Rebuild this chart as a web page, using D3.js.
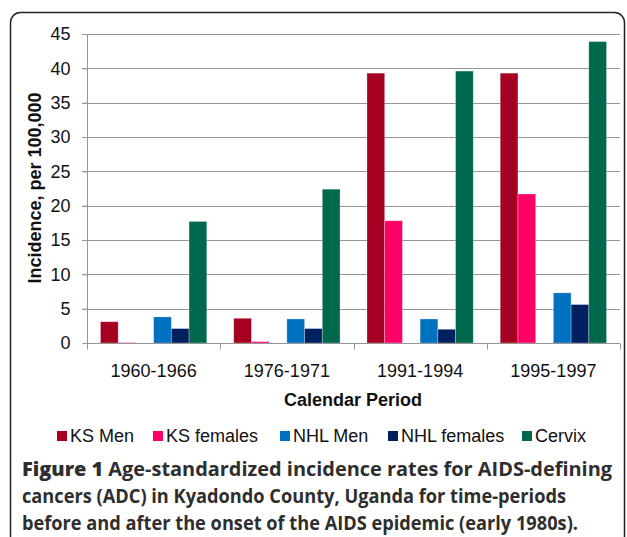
<!DOCTYPE html>
<html>
 <head>
  <title>Figure 1</title>
  <style>
  body { margin: 0; background: #fff; }
  svg { display: block; }
  .axis text { font-family: "Liberation Sans", Arial, sans-serif; font-size: 18px; fill: #111; }
  </style>
 </head>
 <body>
  <script src="https://cdnjs.cloudflare.com/ajax/libs/d3/7.8.3/d3.min.js"></script>
  <script>
   const periods = ["1960-1966", "1976-1971", "1991-1994", "1995-1997"];
   const seriesNames = ["KS Men", "KS females", "NHL Men", "NHL females", "Cervix"];
   const ksMen = [3.1, 3.6, 39.3, 39.3];
   const ksFemales = [0.05, 0.2, 17.8, 21.7];
   const nhlMen = [3.8, 3.5, 3.5, 7.3];
   const nhlFemales = [2.1, 2.1, 2.0, 5.6];
   const cervix = [17.7, 22.4, 39.6, 43.9];
   const yTicks = [0, 5, 10, 15, 20, 25, 30, 35, 40, 45];
   const captionLines = [
    "Age-standardized incidence rates for AIDS-defining",
    "cancers (ADC) in Kyadondo County, Uganda for time-periods",
    "before and after the onset of the AIDS epidemic (early 1980s)."
   ];

   const values = [ksMen, ksFemales, nhlMen, nhlFemales, cervix];
   const colors = ["#a50021", "#ff0066", "#0070c0", "#002060", "#00684c"];
   // the original chart has an empty slot between KS and NHL bars
   const slots = ["KS Men", "KS females", "", "NHL Men", "NHL females", "Cervix"];

   const w = 627, h = 537;
   const pLeft = 87, pRight = 620, pTop = 34, pBottom = 343;
   const font = "Liberation Sans, Arial, sans-serif";

   const svg = d3.select("body").append("svg")
     .attr("width", w)
     .attr("height", h);

   svg.append("rect")
     .attr("x", 10.5).attr("y", 12.5)
     .attr("width", 614).attr("height", 600)
     .attr("rx", 10)
     .attr("fill", "none")
     .attr("stroke", "#222")
     .attr("stroke-width", 1.5);

   const x0 = d3.scaleBand().domain(periods).range([pLeft, pRight]);
   const x1 = d3.scaleBand().domain(slots.map((s, i) => i))
     .range([0, x0.bandwidth()])
     .paddingInner(0)
     .paddingOuter(0.76);
   const y = d3.scaleLinear().domain([0, 45]).range([pBottom, pTop]);

   // gridlines
   svg.append("g")
     .selectAll("line")
     .data(yTicks.filter(d => d > 0))
     .join("line")
     .attr("x1", pLeft - 5).attr("x2", pRight)
     .attr("y1", d => Math.round(y(d)) + 0.5)
     .attr("y2", d => Math.round(y(d)) + 0.5)
     .attr("stroke", "#969696");

   // bars
   seriesNames.forEach((name, si) => {
    const slot = slots.indexOf(name);
    svg.append("g")
      .selectAll("rect")
      .data(values[si].map((v, i) => ({period: periods[i], v: v})))
      .join("rect")
      .attr("x", d => x0(d.period) + x1(slot))
      .attr("y", d => y(d.v))
      .attr("width", x1.bandwidth())
      .attr("height", d => y(0) - y(d.v))
      .attr("fill", colors[si])
      .attr("stroke", "rgba(255,255,255,0.35)")
      .attr("stroke-width", 0.8);
   });

   const yAxis = d3.axisLeft(y).tickValues(yTicks).tickSize(5).tickPadding(12);
   const gy = svg.append("g")
     .attr("class", "axis")
     .attr("transform", "translate(" + (pLeft + 0.5) + ",0)")
     .call(yAxis);
   gy.selectAll("line, path").attr("stroke", "#969696");
   gy.select(".domain").attr("d", "M0," + pTop + "V" + pBottom);

   const xAxis = d3.axisBottom(x0).tickSize(0).tickPadding(21);
   const gx = svg.append("g")
     .attr("class", "axis")
     .attr("transform", "translate(0," + (pBottom + 0.5) + ")")
     .call(xAxis);
   gx.select(".domain").attr("d", "M" + pLeft + ",0H" + pRight).attr("stroke", "#969696");
   gx.selectAll(".sep")
     .data(periods.concat(["end"]))
     .join("line")
     .attr("class", "sep")
     .attr("x1", (d, i) => Math.round(pLeft + i * x0.step()) + 0.5)
     .attr("x2", (d, i) => Math.round(pLeft + i * x0.step()) + 0.5)
     .attr("y1", 0).attr("y2", 6)
     .attr("stroke", "#969696");

   // axis titles
   svg.append("text")
     .attr("transform", "translate(41,188) rotate(-90)")
     .attr("text-anchor", "middle")
     .style("font-family", font)
     .style("font-size", "18px")
     .style("font-weight", "bold")
     .attr("fill", "#111")
     .text("Incidence, per 100,000");

   svg.append("text")
     .attr("x", 353).attr("y", 406)
     .attr("text-anchor", "middle")
     .style("font-family", font)
     .style("font-size", "18px")
     .style("font-weight", "bold")
     .attr("fill", "#111")
     .text("Calendar Period");

   // legend
   const legendX = [57, 153, 280, 388, 522];
   const lg = svg.append("g")
     .selectAll("g")
     .data(seriesNames)
     .join("g")
     .attr("transform", (d, i) => "translate(" + legendX[i] + ",431)");
   lg.append("rect")
     .attr("width", 10).attr("height", 10)
     .attr("fill", (d, i) => colors[i]);
   lg.append("text")
     .attr("x", 13).attr("y", 11)
     .style("font-family", font)
     .style("font-size", "18px")
     .attr("fill", "#111")
     .text(d => d);

   // caption
   const capWidths = [590, 544, 556];
   const cap = svg.append("g")
     .style("font-family", "Open Sans, sans-serif")
     .style("font-size", "19px")
     .style("font-weight", "bold")
     .attr("fill", "#2e2e2e");
   captionLines.forEach((line, i) => {
    const t = cap.append("text")
      .attr("x", 22)
      .attr("y", 476 + i * 27)
      .attr("textLength", capWidths[i])
      .attr("lengthAdjust", "spacingAndGlyphs");
    if (i === 0) {
     t.append("tspan").style("font-weight", "800").text("Figure 1 ");
    }
    t.append("tspan").text(line);
   });
  </script>
 </body>
</html>
